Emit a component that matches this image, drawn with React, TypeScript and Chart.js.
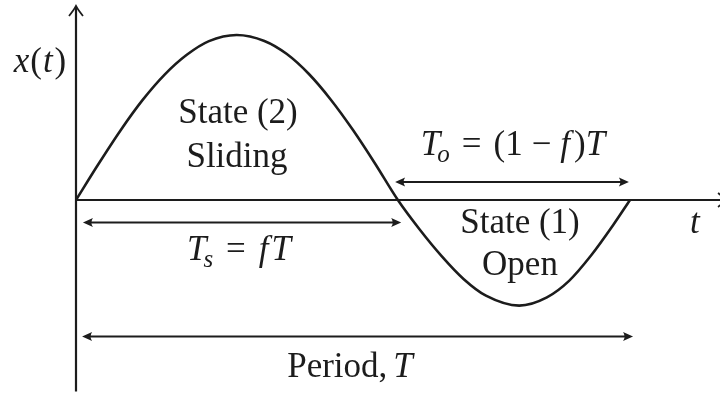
import { useEffect, useRef } from "react";
import { Chart, registerables } from "chart.js";

Chart.register(...registerables);

// Dimensionless time t/T and displacement x(t)/x_max sampled along one cycle
const timeValues = [
  0, 0.04, 0.08, 0.12, 0.16, 0.2, 0.24, 0.29, 0.34, 0.38, 0.42, 0.46, 0.5, 0.54, 0.581,
  0.62, 0.66, 0.7, 0.74, 0.8, 0.85, 0.89, 0.93, 0.97, 1.0,
];
const displacementValues = [
  0, 0.215, 0.42, 0.605, 0.76, 0.88, 0.963, 1.0, 0.964, 0.886, 0.765, 0.608, 0.424, 0.22, 0,
  -0.177, -0.34, -0.48, -0.58, -0.64, -0.59, -0.49, -0.335, -0.15, 0,
];

// Sliding fraction f and period T
const slidingFraction = 0.581;
const periodLength = 1.0;

const INK = "#1c1c1c";
const SERIF = '"Liberation Serif", "Times New Roman", serif';

type Part = { s: string; it?: boolean; sub?: boolean; gap?: number };

function drawRich(ctx: CanvasRenderingContext2D, parts: Part[], cx: number, baseline: number, size: number) {
  const fontFor = (p: Part) =>
    `${p.it ? "italic " : ""}${p.sub ? Math.round(size * 0.7) : size}px ${SERIF}`;
  let total = 0;
  const widths = parts.map((p) => {
    ctx.font = fontFor(p);
    const w = ctx.measureText(p.s).width + (p.gap || 0);
    total += w;
    return w;
  });
  let x = cx - total / 2;
  ctx.textBaseline = "alphabetic";
  ctx.textAlign = "left";
  ctx.fillStyle = INK;
  parts.forEach((p, i) => {
    ctx.font = fontFor(p);
    ctx.fillText(p.s, x + (p.gap || 0), baseline + (p.sub ? size * 0.2 : 0));
    x += widths[i];
  });
}

function filledHead(ctx: CanvasRenderingContext2D, x: number, y: number, dir: number) {
  // dir = +1 points right, -1 points left
  const len = 10;
  const half = 4.5;
  ctx.beginPath();
  ctx.moveTo(x, y);
  ctx.lineTo(x - dir * len, y - half);
  ctx.quadraticCurveTo(x - dir * len * 0.7, y, x - dir * len, y + half);
  ctx.closePath();
  ctx.fill();
}

const diagramPlugin = {
  id: "cycleDiagram",
  beforeDatasetsDraw(chart: any) {
    const { ctx, scales } = chart;
    const xs = scales.x;
    const ys = scales.y;
    const x0 = xs.getPixelForValue(0);
    const y0 = ys.getPixelForValue(0);
    ctx.save();
    ctx.strokeStyle = INK;
    ctx.lineWidth = 2.2;
    ctx.lineCap = "butt";
    // vertical axis x(t)
    const yTop = ys.getPixelForValue(1.176);
    const yBot = ys.getPixelForValue(-1.16);
    ctx.beginPath();
    ctx.moveTo(x0, yBot);
    ctx.lineTo(x0, yTop + 1);
    ctx.stroke();
    ctx.lineWidth = 1.8;
    ctx.beginPath();
    ctx.moveTo(x0 - 7, yTop + 10);
    ctx.quadraticCurveTo(x0 - 2, yTop + 4, x0, yTop);
    ctx.quadraticCurveTo(x0 + 2, yTop + 4, x0 + 7, yTop + 10);
    ctx.stroke();
    // horizontal axis t
    const xEnd = xs.getPixelForValue(1.177);
    ctx.lineWidth = 2.2;
    ctx.beginPath();
    ctx.moveTo(x0, y0);
    ctx.lineTo(xEnd, y0);
    ctx.stroke();
    ctx.lineWidth = 1.8;
    ctx.beginPath();
    ctx.moveTo(xEnd - 10, y0 - 7);
    ctx.quadraticCurveTo(xEnd - 4, y0 - 2, xEnd, y0);
    ctx.quadraticCurveTo(xEnd - 4, y0 + 2, xEnd - 10, y0 + 7);
    ctx.stroke();
    ctx.restore();
  },
  afterDatasetsDraw(chart: any) {
    const { ctx, scales } = chart;
    const xs = scales.x;
    const ys = scales.y;
    const px = (t: number) => xs.getPixelForValue(t);
    const py = (v: number) => ys.getPixelForValue(v);
    ctx.save();
    ctx.strokeStyle = INK;
    ctx.fillStyle = INK;
    ctx.lineWidth = 2;

    const span = (a: number, b: number, level: number) => {
      const ya = py(level);
      const xa = px(a);
      const xb = px(b);
      ctx.beginPath();
      ctx.moveTo(xa + 6, ya);
      ctx.lineTo(xb - 6, ya);
      ctx.stroke();
      filledHead(ctx, xa, ya, -1);
      filledHead(ctx, xb, ya, 1);
    };

    // T_o = (1 - f)T : open phase
    span(slidingFraction - 0.005, periodLength - 0.002, 0.109);
    // T_s = fT : sliding phase
    span(0.0125, slidingFraction + 0.006, -0.136);
    // full period
    span(0.011, periodLength + 0.0055, -0.827);

    const size = 35;
    drawRich(
      ctx,
      [{ s: "x", it: true }, { s: "(", gap: 1 }, { s: "t", it: true, gap: 1 }, { s: ")", gap: 2 }],
      px(-0.065),
      py(0.7758),
      size
    );
    drawRich(ctx, [{ s: "State (2)" }], px(0.2924), py(0.4667), size);
    drawRich(ctx, [{ s: "Sliding" }], px(0.2906), py(0.2), size);
    drawRich(
      ctx,
      [
        { s: "T", it: true },
        { s: "o", it: true, sub: true, gap: -3 },
        { s: "=", gap: 12 },
        { s: "(1", gap: 12 },
        { s: "\u2212", gap: 9 },
        { s: "f", it: true, gap: 9 },
        { s: ")", gap: 4 },
        { s: "T", it: true },
      ],
      px(0.7888),
      py(0.2727),
      size
    );
    drawRich(ctx, [{ s: "State (1)" }], px(0.8014), py(-0.2), size);
    drawRich(ctx, [{ s: "Open" }], px(0.8014), py(-0.4545), size);
    drawRich(ctx, [{ s: "t", it: true }], px(1.1173), py(-0.2), size);
    drawRich(
      ctx,
      [
        { s: "T", it: true },
        { s: "s", it: true, sub: true, gap: -3 },
        { s: "=", gap: 13 },
        { s: "f", it: true, gap: 13 },
        { s: "T", it: true, gap: 3 },
      ],
      px(0.2942),
      py(-0.3636),
      size
    );
    drawRich(ctx, [{ s: "Period," }, { s: "T", it: true, gap: 6 }], px(0.4946), py(-1.0727), size);
    ctx.restore();
  },
};

export default function App() {
  const canvasRef = useRef<HTMLCanvasElement | null>(null);

  useEffect(() => {
    document.body.style.margin = "0";
    const canvas = canvasRef.current;
    if (!canvas) return;
    const points = timeValues.map((t, i) => ({ x: t, y: displacementValues[i] }));
    const chart = new Chart(canvas, {
      type: "line",
      data: {
        datasets: [
          {
            data: points,
            borderColor: INK,
            borderWidth: 2.6,
            pointRadius: 0,
            fill: false,
            cubicInterpolationMode: "monotone",
            clip: false as any,
          },
        ],
      },
      options: {
        responsive: false,
        animation: false,
        layout: { padding: 0 },
        plugins: { legend: { display: false }, tooltip: { enabled: false } },
        events: [],
        scales: {
          x: { type: "linear", display: false, min: -0.13718, max: 1.16245 },
          y: { type: "linear", display: false, min: -1.17576, max: 1.21212 },
        },
      },
      plugins: [diagramPlugin],
    });
    return () => chart.destroy();
  }, []);

  return (
    <div style={{ position: "absolute", left: 0, top: 0, width: 720, height: 394, background: "#fff" }}>
      <canvas ref={canvasRef} width={720} height={394} style={{ display: "block" }} />
    </div>
  );
}
